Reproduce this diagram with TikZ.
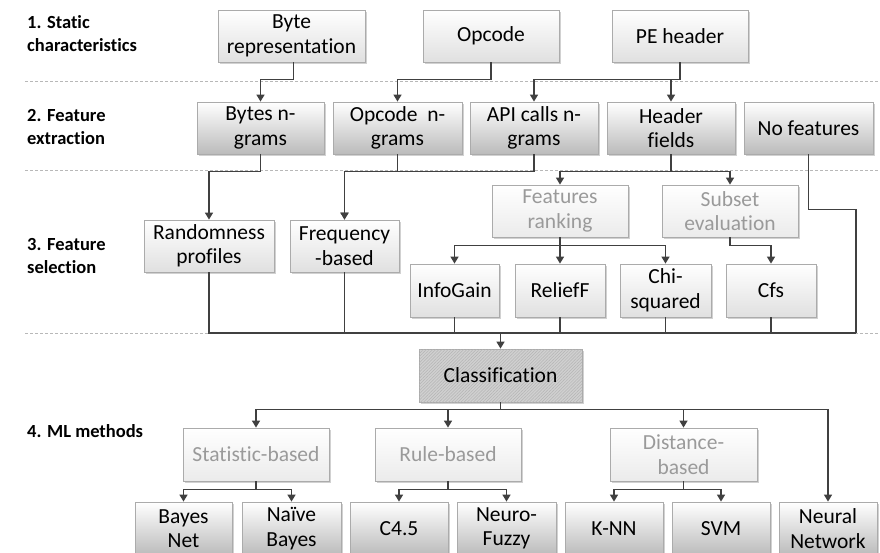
\documentclass[tikz,border=0pt]{standalone}
\usepackage{fontspec}
\setmainfont{Carlito}[Ligatures=CommonOff]
\usetikzlibrary{arrows.meta,shadows,patterns.meta,calc}
\definecolor{boxline}{HTML}{ABABAB}
\definecolor{lightbot}{HTML}{E0E0E0}
\definecolor{darkbot}{HTML}{BBBBBB}
\definecolor{greybot}{HTML}{EBEBEB}
\definecolor{greytext}{HTML}{9A9A9A}
\definecolor{conn}{HTML}{404040}
\definecolor{dashcol}{HTML}{B8B8B8}
\definecolor{clsfill}{HTML}{D0D0D0}
\definecolor{clshatch}{HTML}{B4B4B4}
\newcommand\boxfont{\fontsize{21.5}{24.5}\selectfont}
\newcommand\labfont{\fontsize{18.5}{23}\selectfont\bfseries}
\newcommand\bx[7]{\node[#2, minimum width={(#5-#3)*1pt}, minimum height={(#6-#4)*1pt}] (#1) at ({(#3+#5)/2},{(#4+#6)/2}) {#7};}
\tikzset{
  box/.style={draw=boxline, line width=0.8pt, align=center, inner sep=1pt, font=\boxfont,
    drop shadow={shadow xshift=1.5pt, shadow yshift=-1.5pt, fill=black, opacity=0.18}},
  lightbox/.style={box, top color=white, bottom color=lightbot},
  darkbox/.style={box, top color=white, bottom color=darkbot},
  greybox/.style={box, top color=white, bottom color=greybot, text=greytext},
  clsbox/.style={box, fill=clsfill, postaction={pattern={Lines[angle=45, distance=2.2pt, line width=0.5pt]}, pattern color=clshatch}},
  conline/.style={draw=conn, line width=1.4pt},
  arr/.style={conline, -{Triangle[length=7pt,width=8pt]}},
  sep/.style={draw=dashcol, line width=0.8pt, dash pattern=on 3pt off 2pt},
  lab/.style={anchor=west, align=left, font=\labfont, inner sep=0pt}
}
\begin{document}
\begin{tikzpicture}[x=1pt,y=-1pt]
\useasboundingbox (0,0) rectangle (880,552);
\clip (0,0) rectangle (880,552);
\fill[white] (0,0) rectangle (880,552);
% separators
\draw[sep] (25,81) -- (880,81);
\draw[sep] (25,170) -- (880,170);
\draw[sep] (25,333) -- (880,333);
% labels
\node[lab] (l1) at (27,34) {1. Static\\characteristics};
\node[lab] (l2) at (27,127) {2. Feature\\extraction};
\node[lab] (l3) at (27,256) {3. Feature\\selection};
\node[lab] (l4) at (27,431) {4. ML methods};
% row 1
\bx{brep}{lightbox}{218}{10}{365}{62}{Byte\\representation}
\bx{opc}{lightbox}{423}{10}{559}{62}{Opcode}
\bx{pe}{lightbox}{612}{10}{748}{62}{PE header}
% row 2
\bx{bng}{darkbox}{197}{102}{324}{154}{Bytes n-\\grams}
\bx{ong}{darkbox}{333}{102}{462}{154}{Opcode\hspace{0.45em}n-\\grams}
\bx{api}{darkbox}{470}{102}{598}{154}{API calls n-\\grams}
\bx{hdr}{darkbox}{607}{102}{735}{154}{Header\\fields}
\bx{nof}{darkbox}{744}{102}{873}{154}{No features}
% row 3
\bx{rnd}{lightbox}{144}{220}{274}{272}{Randomness\\profiles}
\bx{frq}{lightbox}{290}{220}{399}{272}{Frequency\\-based}
\bx{frk}{greybox}{492}{185}{628}{237}{Features\\ranking}
\bx{sev}{greybox}{662}{185}{798}{237}{Subset\\evaluation}
\bx{ig}{lightbox}{410}{264}{499}{317}{InfoGain}
\bx{rf}{lightbox}{515}{264}{605}{317}{ReliefF}
\bx{chi}{lightbox}{620}{264}{711}{317}{Chi-\\squared}
\bx{cfs}{lightbox}{726}{264}{816}{317}{Cfs}
% classification
\bx{cls}{clsbox}{419}{349}{582}{402}{Classification}
% row 4
\bx{stat}{greybox}{183}{428}{329}{481}{Statistic-based}
\bx{rule}{greybox}{375}{428}{521}{481}{Rule-based}
\bx{dist}{greybox}{610}{428}{757}{481}{Distance-\\based}
\bx{bn}{darkbox}{135}{502}{232}{555}{Bayes\\Net}
\bx{nb}{darkbox}{242}{502}{341}{555}{Naïve\\Bayes}
\bx{c45}{darkbox}{350}{502}{448}{555}{C4.5}
\bx{nf}{darkbox}{457}{502}{556}{555}{Neuro-\\Fuzzy}
\bx{knn}{darkbox}{565}{502}{663}{555}{K-NN}
\bx{svm}{darkbox}{672}{502}{770}{555}{SVM}
\bx{nn}{darkbox}{779}{502}{877}{555}{Neural\\Network}
% connectors row1 -> row2
\draw[arr] ([xshift=2pt]brep.south) -- ++(0,17) -| (bng.north);
\draw[arr] (opc.south) -- ++(0,17) -| (ong.north);
\draw[arr] (pe.south) -- ++(0,17) -| (api.north);
\draw[arr] (pe.south) -- ++(0,17) -| (hdr.north);
% row2 -> row3
\draw[arr] (bng.south) -- ++(0,17) -| (rnd.north);
\draw[arr] (ong.south) -- ++(0,17) -| (frq.north);
\draw[arr] (api.south) -- ++(0,17) -| (frq.north);
\draw[arr] (hdr.south) -- ++(0,17) -| (frk.north);
\draw[arr] (hdr.south) -- ++(0,17) -| (sev.north);
\coordinate (nfend) at (856,333);
\draw[conline] (nof.south) -- ++(0,55) -| (nfend);
% ranking / subset
\draw[arr] (frk.south) -- ++(0,8) -| (ig.north);
\draw[arr] (frk.south) -- ++(0,8) -| (rf.north);
\draw[arr] (frk.south) -- ++(0,8) -| (chi.north);
\draw[arr] (sev.south) -- ++(0,8) -| (cfs.north);
% merge
\draw[conline] (rnd.south) |- (nfend);
\draw[conline] (frq.south) -- (frq.south |- nfend);
\draw[conline] (ig.south) -- (ig.south |- nfend);
\draw[conline] (rf.south) -- (rf.south |- nfend);
\draw[conline] (chi.south) -- (chi.south |- nfend);
\draw[conline] (cfs.south) -- (cfs.south |- nfend);
\draw[arr] (cls.north |- nfend) -- (cls.north);
% classification -> methods
\draw[arr] (cls.south) -- ++(0,7) -| (stat.north);
\draw[arr] (cls.south) -- ++(0,7) -| (rule.north);
\draw[arr] (cls.south) -- ++(0,7) -| (dist.north);
\draw[arr] (cls.south) -- ++(0,7) -| (nn.north);
\draw[arr] (stat.south) -- ++(0,8) -| (bn.north);
\draw[arr] (stat.south) -- ++(0,8) -| (nb.north);
\draw[arr] (rule.south) -- ++(0,8) -| (c45.north);
\draw[arr] (rule.south) -- ++(0,8) -| (nf.north);
\draw[arr] (dist.south) -- ++(0,8) -| (knn.north);
\draw[arr] (dist.south) -- ++(0,8) -| (svm.north);
\end{tikzpicture}
\end{document}
